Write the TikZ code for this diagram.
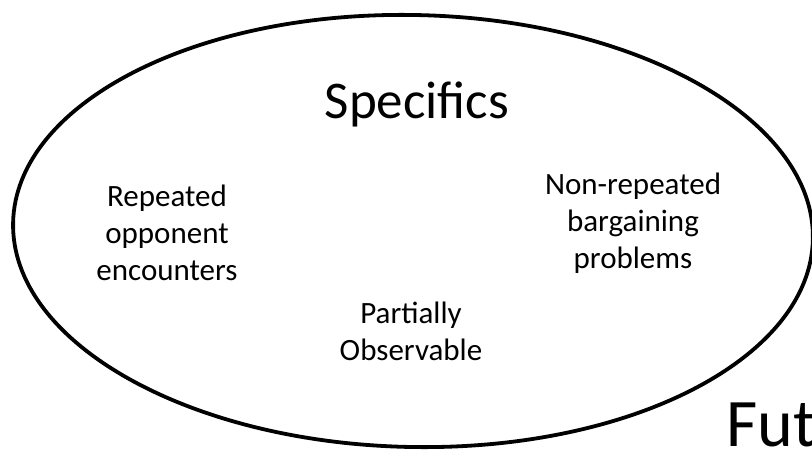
\documentclass[tikz,border=0pt]{standalone}
\usepackage{fontspec}
\setmainfont{Carlito}
\begin{document}
\begin{tikzpicture}[x=1pt,y=-1pt,
  small/.style={font=\fontsize{31}{37}\selectfont, align=center, inner sep=0pt},
  big/.style={font=\fontsize{53}{64}\selectfont, inner sep=0pt},
  huge/.style={font=\fontsize{68}{80}\selectfont, inner sep=0pt}]
\useasboundingbox (0,0) rectangle (812,452);
\clip (0,0) rectangle (812,452);
\draw[line width=3.8pt, rotate around={-1.2:(413,231)}] (413,231) ellipse [x radius=400, y radius=216];
\node[big, anchor=base] (spec) at (417,118) {Specifics};
\node[small, anchor=base] (rep) at (167,280) {Repeated\\opponent\\encounters};
\node[small, anchor=base] (non) at (633,268) {Non-repeated\\bargaining\\problems};
\node[small, anchor=base] (part) at (411,360) {Partially\\Observable};
\node[huge, anchor=base west] (fut) at (726,446) {Fut};
\end{tikzpicture}
\end{document}
